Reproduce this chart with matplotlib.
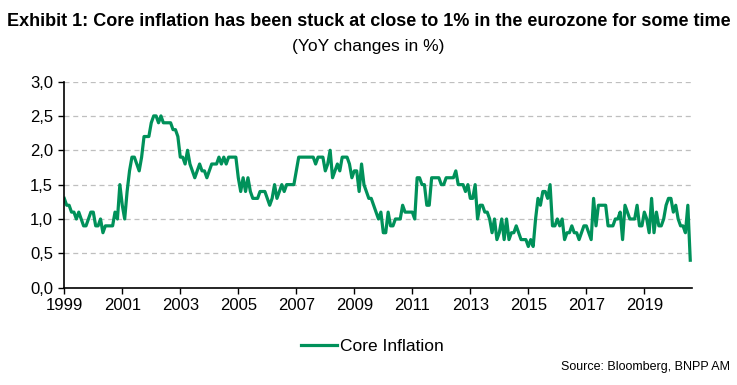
import numpy as np
import matplotlib
matplotlib.use("Agg")
import matplotlib.pyplot as plt
from matplotlib.ticker import FuncFormatter

# monthly core inflation, YoY %, Jan 1999 .. Aug 2020
y1999 = [1.3, 1.2, 1.2, 1.1, 1.1, 1.0, 1.1, 1.0, 0.9, 0.9, 1.0, 1.1]
y2000 = [1.1, 0.9, 0.9, 1.0, 0.8, 0.9, 0.9, 0.9, 0.9, 1.1, 1.0, 1.5]
y2001 = [1.2, 1.0, 1.4, 1.7, 1.9, 1.9, 1.8, 1.7, 1.9, 2.2, 2.2, 2.2]
y2002 = [2.4, 2.5, 2.5, 2.4, 2.5, 2.4, 2.4, 2.4, 2.4, 2.3, 2.3, 2.2]
y2003 = [1.9, 1.9, 1.8, 2.0, 1.8, 1.7, 1.6, 1.7, 1.8, 1.7, 1.7, 1.6]
y2004 = [1.7, 1.8, 1.8, 1.8, 1.9, 1.8, 1.9, 1.8, 1.9, 1.9, 1.9, 1.9]
y2005 = [1.6, 1.4, 1.6, 1.4, 1.6, 1.4, 1.3, 1.3, 1.3, 1.4, 1.4, 1.4]
y2006 = [1.3, 1.2, 1.3, 1.5, 1.3, 1.4, 1.5, 1.4, 1.5, 1.5, 1.5, 1.5]
y2007 = [1.7, 1.9, 1.9, 1.9, 1.9, 1.9, 1.9, 1.9, 1.8, 1.9, 1.9, 1.9]
y2008 = [1.7, 1.8, 2.0, 1.6, 1.7, 1.8, 1.7, 1.9, 1.9, 1.9, 1.8, 1.6]
y2009 = [1.7, 1.7, 1.4, 1.8, 1.5, 1.4, 1.3, 1.3, 1.2, 1.1, 1.0, 1.1]
y2010 = [0.8, 0.8, 1.1, 0.9, 0.9, 1.0, 1.0, 1.0, 1.2, 1.1, 1.1, 1.1]
y2011 = [1.1, 1.0, 1.6, 1.6, 1.5, 1.5, 1.2, 1.2, 1.6, 1.6, 1.6, 1.6]
y2012 = [1.5, 1.5, 1.6, 1.6, 1.6, 1.6, 1.7, 1.5, 1.5, 1.5, 1.4, 1.5]
y2013 = [1.3, 1.3, 1.5, 1.0, 1.2, 1.2, 1.1, 1.1, 1.0, 0.8, 1.0, 0.7]
y2014 = [0.8, 1.0, 0.7, 1.0, 0.7, 0.8, 0.8, 0.9, 0.8, 0.7, 0.7, 0.7]
y2015 = [0.6, 0.7, 0.6, 1.0, 1.3, 1.2, 1.4, 1.4, 1.3, 1.5, 0.9, 0.9]
y2016 = [1.0, 0.9, 1.0, 0.7, 0.8, 0.8, 0.9, 0.8, 0.8, 0.7, 0.8, 0.9]
y2017 = [0.9, 0.8, 0.7, 1.3, 0.9, 1.2, 1.2, 1.2, 1.2, 0.9, 0.9, 0.9]
y2018 = [1.0, 1.0, 1.1, 0.7, 1.2, 1.1, 1.0, 1.0, 1.0, 1.2, 0.9, 0.9]
y2019 = [1.1, 1.0, 0.8, 1.3, 0.8, 1.1, 0.9, 0.9, 1.0, 1.2, 1.3, 1.3]
y2020 = [1.1, 1.2, 1.0, 0.9, 0.9, 0.8, 1.2, 0.4]

core = (y1999 + y2000 + y2001 + y2002 + y2003 + y2004 + y2005 + y2006 + y2007
        + y2008 + y2009 + y2010 + y2011 + y2012 + y2013 + y2014 + y2015
        + y2016 + y2017 + y2018 + y2019 + y2020)
dates = 1999 + np.arange(len(core)) / 12.0

year_ticks = list(range(1999, 2020, 2))
y_ticks = [0.0, 0.5, 1.0, 1.5, 2.0, 2.5, 3.0]

green = "#00915A"
plt.rcParams["font.family"] = ["Liberation Sans", "DejaVu Sans"]

fig = plt.figure(figsize=(7.37, 3.85), dpi=100)
ax = fig.add_axes([0.0872, 0.2527, 0.852, 0.5355])

ax.plot(dates, core, color=green, lw=2.3, label="Core Inflation")

ax.set_xlim(1999, 2020.65)
ax.set_ylim(0, 3.0)
ax.set_xticks(year_ticks)
ax.set_yticks(y_ticks)
ax.yaxis.set_major_formatter(FuncFormatter(lambda v, p: f"{v:.1f}".replace(".", ",")))
ax.tick_params(axis="both", direction="out", length=4.5, width=1, labelsize=12, colors="black")
ax.tick_params(axis="x", pad=3)
ax.grid(axis="y", color="#BFBFBF", linestyle=(0, (4, 3)), lw=0.9)
ax.set_axisbelow(True)
for s in ["top", "right"]:
    ax.spines[s].set_visible(False)
for s in ["left", "bottom"]:
    ax.spines[s].set_linewidth(1.2)

fig.text(0.5, 0.943, "Exhibit 1: Core inflation has been stuck at close to 1% in the eurozone for some time",
         ha="center", va="center", fontsize=13, fontweight="bold")
fig.text(0.5, 0.878, "(YoY changes in %)", ha="center", va="center", fontsize=12.5)

fig.legend(loc="center", bbox_to_anchor=(0.505, 0.099), frameon=False,
           handlelength=2.1, handletextpad=0.15, prop={"size": 12.5})
fig.text(0.99, 0.047, "Source: Bloomberg, BNPP AM", ha="right", va="center", fontsize=9)

fig.savefig("out.png", dpi=100)
